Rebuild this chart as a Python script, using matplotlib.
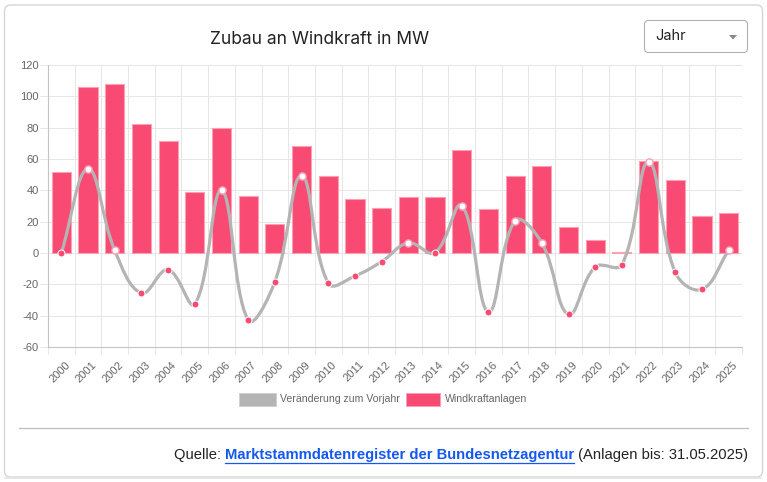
import matplotlib
matplotlib.use("Agg")
import matplotlib.pyplot as plt
import numpy as np
from matplotlib.patches import FancyBboxPatch, Rectangle, Polygon, PathPatch
from matplotlib.path import Path
from matplotlib.transforms import ScaledTranslation

# data
years = ["2000", "2001", "2002", "2003", "2004", "2005", "2006", "2007", "2008",
         "2009", "2010", "2011", "2012", "2013", "2014", "2015", "2016", "2017",
         "2018", "2019", "2020", "2021", "2022", "2023", "2024", "2025"]
zubau = [52.0, 105.9, 107.8, 82.2, 71.8, 39.0, 79.5, 36.6, 18.5, 68.2, 49.0, 34.5, 29.0,
         35.6, 35.8, 66.0, 28.3, 49.0, 55.6, 16.6, 8.1, 0.8, 58.8, 46.7, 23.9, 25.4]
veraenderung = [0.0, 53.7, 1.7, -25.6, -10.7, -32.6, 40.0, -42.8, -18.3, 49.4, -19.4, -14.7, -5.5,
                6.4, 0.3, 30.3, -37.7, 20.5, 6.4, -39.2, -8.9, -7.5, 58.2, -12.4, -23.2, 1.7]
y_ticks = [-60, -40, -20, 0, 20, 40, 60, 80, 100, 120]

PINK = "#f84a72"
GRAY_LINE = "#b4b4b4"
GRID = "#e6e6e6"
TXT = "#666666"
W, H = 767, 482

fig = plt.figure(figsize=(W / 100, H / 100), dpi=100)

# background / card layer in pixel coords
bg = fig.add_axes([0, 0, 1, 1])
bg.set_xlim(0, W)
bg.set_ylim(H, 0)
bg.axis("off")
bg.add_patch(FancyBboxPatch((4.5, 5), 758, 472, boxstyle="round,pad=0,rounding_size=6",
                            fc="white", ec="#d2d2d2", lw=0.9))
bg.plot([5, 761], [477.5, 477.5], color="#e4e4e4", lw=1.2)

bg.text(320, 40, "Zubau an Windkraft in MW", family="Inter", fontsize=12.5,
        color="#222222", ha="center", va="center")

# dropdown
bg.add_patch(FancyBboxPatch((644.5, 20.5), 103, 32, boxstyle="round,pad=0,rounding_size=4",
                            fc="white", ec="#b0b0b0", lw=0.8))
bg.text(655, 36.5, "Jahr", family="Inter", fontsize=10.5, color="#222222", va="center")
bg.add_patch(Polygon([[729, 35], [737, 35], [733, 39.5]], closed=True, fc="#888888", ec="none"))

# legend
bg.add_patch(Rectangle((239, 393), 37, 13, fc=GRAY_LINE, ec="#cfcfcf", lw=0.6))
bg.text(280, 399.5, "Veränderung zum Vorjahr", family="Liberation Sans", fontsize=7.6,
        color=TXT, va="center")
bg.add_patch(Rectangle((406, 393), 34, 13, fc=PINK, ec="#ff9db2", lw=0.6))
bg.text(445, 399.5, "Windkraftanlagen", family="Liberation Sans", fontsize=7.6,
        color=TXT, va="center")

# separator
bg.plot([19, 748], [428, 428], color="#bdbdbd", lw=0.9)

# source line
parts = [("Quelle: ", "#222222", "normal"),
         ("Marktstammdatenregister der Bundesnetzagentur", "#1558f0", "bold"),
         (" (Anlagen bis: 31.05.2025)", "#222222", "normal")]
src_texts = []
for s, c, w in parts:
    src_texts.append(bg.text(0, 455, s, family="Liberation Sans", fontsize=10.6,
                             color=c, weight=w, va="center"))

# main chart
ax = fig.add_axes([48 / W, 1 - 347 / H, (742 - 48) / W, (347 - 65) / H])
x = np.arange(len(years))
ax.bar(x, zubau, width=0.72, color=PINK, edgecolor="#ff9fb3", linewidth=0.8, zorder=2)

# smooth line like chart.js (tension 0.4), computed in pixel space
sx = (742 - 48) / len(years)
sy = (347 - 65) / 180.0
pts = np.column_stack([x * sx, np.array(veraenderung) * sy])
n = len(pts)
prev_cp = np.zeros_like(pts)
next_cp = np.zeros_like(pts)
t = 0.4
for i in range(n):
    p0 = pts[max(i - 1, 0)]
    p1 = pts[i]
    p2 = pts[min(i + 1, n - 1)]
    d01 = np.hypot(*(p1 - p0))
    d12 = np.hypot(*(p2 - p1))
    tot = d01 + d12
    s01 = d01 / tot if tot else 0
    s12 = d12 / tot if tot else 0
    prev_cp[i] = p1 - t * s01 * (p2 - p0)
    next_cp[i] = p1 + t * s12 * (p2 - p0)
verts = [pts[0]]
codes = [Path.MOVETO]
for i in range(n - 1):
    verts += [next_cp[i], prev_cp[i + 1], pts[i + 1]]
    codes += [Path.CURVE4] * 3
verts = np.array(verts)
verts[:, 0] /= sx
verts[:, 1] /= sy
verts[:, 1] = np.clip(verts[:, 1], -60, 120)
ax.add_patch(PathPatch(Path(verts, codes), fc="none", ec=GRAY_LINE, lw=2.3, zorder=3,
                       capstyle="round", joinstyle="round"))

for xi, v in zip(x, veraenderung):
    if v > 1:
        ax.plot(xi, v, "o", ms=5.2, mfc="white", mec="#f4a0b4", mew=1.0, zorder=4)
    else:
        ax.plot(xi, v, "o", ms=5.0, mfc=PINK, mec="white", mew=0.7, zorder=4)

ax.set_xlim(-0.5, len(years) - 0.5)
ax.set_ylim(-60, 120)
ax.set_yticks(y_ticks)
ax.set_yticklabels([str(v) for v in y_ticks], family="Liberation Sans", fontsize=8, color=TXT)
ax.set_xticks(x)
ax.set_xticklabels(years, family="Liberation Sans", fontsize=8, color=TXT,
                   rotation=45, ha="right", va="center", rotation_mode="anchor")
ax.set_xticks(np.arange(len(years) + 1) - 0.5, minor=True)
ax.tick_params(axis="x", which="major", length=0, pad=11.5)
ax.tick_params(axis="x", which="minor", length=5.2, width=0.7, color=GRID)
ax.tick_params(axis="y", length=5.8, width=0.7, color=GRID, pad=1)
off = ScaledTranslation(0.07, 0, fig.dpi_scale_trans)
for lab in ax.get_xticklabels():
    lab.set_transform(lab.get_transform() + off)
ax.grid(axis="x", which="minor", color=GRID, lw=0.7, zorder=0)
ax.grid(axis="y", which="major", color=GRID, lw=0.7, zorder=0)
ax.set_axisbelow(True)
for side in ["top", "right"]:
    ax.spines[side].set_visible(False)
for side in ["left", "bottom"]:
    ax.spines[side].set_color("#c4c4c4")
    ax.spines[side].set_linewidth(0.8)
ax.patch.set_alpha(0)

# place the source line right-aligned, underline the link
fig.canvas.draw()
r = fig.canvas.get_renderer()
widths = [tx.get_window_extent(r).width for tx in src_texts]
xpos = 748 - sum(widths)
for tx, wd in zip(src_texts, widths):
    tx.set_x(xpos)
    if tx is src_texts[1]:
        bg.plot([xpos, xpos + wd], [463, 463], color="#1558f0", lw=0.9)
    xpos += wd

fig.savefig("out.png", dpi=100)
